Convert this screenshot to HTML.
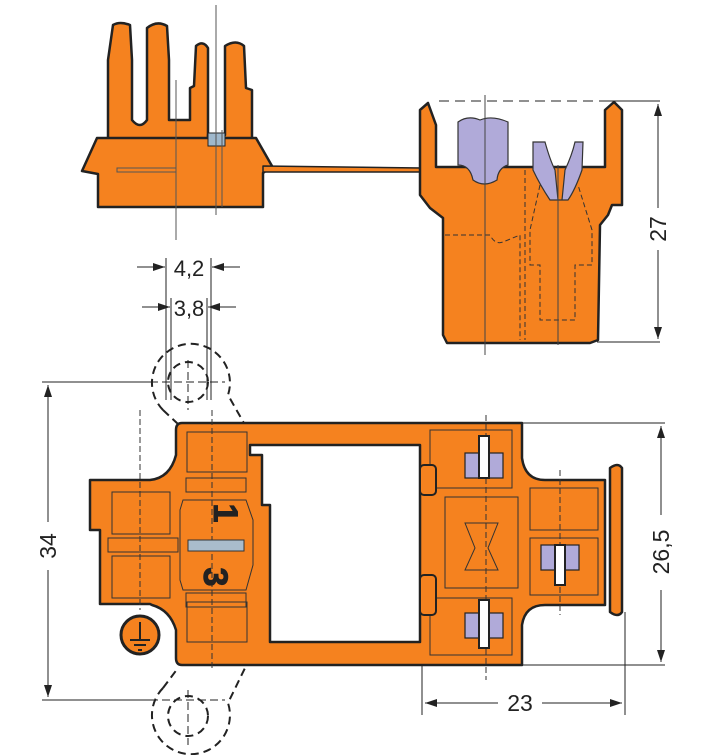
<!DOCTYPE html>
<html><head><meta charset="utf-8"><style>
html,body{margin:0;padding:0;background:#fff;}
svg{display:block;}
text{font-family:"Liberation Sans",sans-serif;fill:#222;}
</style></head><body>
<svg width="707" height="755" viewBox="0 0 707 755" xmlns="http://www.w3.org/2000/svg">
<defs>
<marker id="ar" markerWidth="12" markerHeight="8" refX="12" refY="4" orient="auto" markerUnits="userSpaceOnUse"><path d="M0,0 L12,4 L0,8 Z" fill="#222"/></marker>
</defs>
<g stroke="#222" fill="none" stroke-width="1">
<!-- ===== Top-left side view ===== -->
<g stroke-width="2.5" fill="#f5821f" stroke-linejoin="round">
<path d="M108,140 L108,60 L113,25 Q120,21 130,25 L132,60 L132,120 Q140,130 147,120 L147,28 Q157,20 167,26 L169,60 L169,120 L190,120 L190,88 L194,86 L196,46 Q203,40 208,48 L208,140 Z"/>
<path d="M208,140 L208,135 Q216,148 225,135 L225,46 Q236,39 244,46 L246,88 L252,90 L252,140 Z"/>
<path d="M97,138 L82,171 L98,174 L98,207 L263,207 L263,173 L272,166 L256,138 Z"/>
<path d="M263,166 L422,168 L422,172 L263,172 Z" stroke-width="1.5"/>
</g>
<rect x="208" y="133" width="17" height="13" fill="#9fb8cc" stroke-width="1"/>
<path d="M176,80 L176,240 M216,5 L216,215" stroke="#555"/>
<path d="M117,168 L176,168 L176,172 L117,172 Z M176,138 L176,207 M222,130 L222,207" stroke="#555"/>
<!-- ===== Top-right side view ===== -->
<path d="M439,101 L600,101" stroke-dasharray="10,6"/>
<path d="M600,101 L660,101 M597,342 L660,342"/>
<g stroke-width="2.5" fill="#f5821f" stroke-linejoin="round">
<path d="M420,110 L428,103 L436,125 L436,167 L597,167 L605,167 L605,110 L614,102 L622,110 L622,205 L612,205 L608,215 L600,225 L598,340 L590,343 L447,343 L443,335 L443,218 L430,208 L420,195 Z"/>
</g>
<path d="M458,122 Q468,115 480,120 Q492,115 508,122 L508,165 Q498,168 497,180 Q484,188 473,180 Q470,165 458,165 Z" fill="#b0aad9" stroke="#333" stroke-width="1.2"/>
<path d="M533,142 L545,142 Q550,160 555,170 L558,200 L562,200 L565,170 Q572,155 575,142 L583,142 L582,170 Q575,190 568,200 L550,200 Q540,185 533,170 Z" fill="#b0aad9" stroke="#333" stroke-width="1.2"/>
<path d="M445,235 L490,235 Q495,245 503,242 L520,235 L520,340 M525,170 L525,340" stroke="#333" stroke-dasharray="5,3"/>
<path d="M540,185 L530,230 L530,265 L540,265 L540,320 L575,320 L575,265 L592,265 L592,230 L578,185" stroke="#333" stroke-dasharray="5,3"/>
<path d="M485,95 L485,355 M558,165 L558,345" stroke="#444"/>
<!-- dimension 27 -->
<path d="M658,208 L658,104" marker-end="url(#ar)"/>
<path d="M658,250 L658,339" marker-end="url(#ar)"/>
<!-- ===== dimensions 4,2 / 3,8 ===== -->
<path d="M166,258 L166,400 M211,258 L211,400 M171,298 L171,400 M207,298 L207,400"/>
<path d="M137,267 L165,267" marker-end="url(#ar)"/>
<path d="M240,267 L212,267" marker-end="url(#ar)"/>
<path d="M142,307 L170,307" marker-end="url(#ar)"/>
<path d="M236,307 L208,307" marker-end="url(#ar)"/>
<!-- dashed circles -->
<g stroke-width="2" stroke-dasharray="8,5">
<path d="M163,410 A39,39 0 1 1 228,395 L245,425"/>
<path d="M163,410 L178,424"/>
<circle cx="188" cy="382" r="20"/>
<path d="M163,688 A39,39 0 1 0 228,703 L245,668"/>
<path d="M163,688 L178,668"/>
<circle cx="188" cy="716" r="20"/>
</g>
<path d="M42,382 L225,382 M188,360 L188,410 M42,700 L225,700 M188,690 L188,745" stroke-dasharray="8,4"/>
<path d="M42,382 L150,382 M42,700 L150,700"/>
<!-- dim 34 -->
<path d="M48,522 L48,385" marker-end="url(#ar)"/>
<path d="M48,570 L48,697" marker-end="url(#ar)"/>
<!-- dim 26,5 -->
<path d="M522,423 L665,423 M522,665 L665,665"/>
<path d="M661,515 L661,426" marker-end="url(#ar)"/>
<path d="M661,590 L661,662" marker-end="url(#ar)"/>
<!-- dim 23 -->
<path d="M422,600 L422,715 M625,612 L625,715"/>
<path d="M498,703 L425,703" marker-end="url(#ar)"/>
<path d="M542,703 L622,703" marker-end="url(#ar)"/>
<!-- ===== Bottom top view ===== -->
<g stroke-width="2.5" fill="#f5821f" stroke-linejoin="round">
<path d="M182,423 L522,423 L522,458 Q525,480 545,480 L605,480 L605,605 L545,605 Q525,605 522,625 L522,665 L182,665 Q176,665 176,658 L176,630 Q170,610 152,605 L150,604 L100,604 L100,530 L90,530 L90,480 L150,480 Q170,478 176,455 L176,430 Q176,423 182,423 Z M250,445 L250,455 L262,455 L262,505 L270,505 L270,642 L420,642 L420,445 Z" fill-rule="evenodd"/>
<path d="M610,468 Q618,462 622,468 L622,612 Q618,618 610,612 Z"/>
<circle cx="140" cy="635" r="19" fill="#f5821f" stroke-width="3"/>
</g>
<path d="M130,640 L150,640 M134,645 L146,645 M138,650 L142,650 M140,622 L140,640" stroke-width="2"/>
<g stroke="#333" stroke-width="1">
<rect x="112" y="492" width="58" height="42"/>
<rect x="112" y="556" width="58" height="42"/>
<rect x="108" y="538" width="70" height="14"/>
<rect x="187" y="432" width="60" height="40"/>
<rect x="187" y="602" width="60" height="40"/>
<rect x="186" y="478" width="60" height="14"/>
<rect x="186" y="593" width="60" height="14"/>
<path d="M183,500 L246,500 L253,520 L253,565 L246,590 L183,590 L180,580 L180,510 Z"/>
<path d="M430,430 L512,430 L512,488 L430,488 Z M445,497 L518,497 L518,588 L445,588 Z M530,488 L598,488 L598,530 L530,530 Z M530,538 L598,538 L598,595 L530,595 Z M430,598 L512,598 L512,655 L430,655 Z"/>
<path d="M465,523 L498,523 L488,548 L498,570 L465,570 L475,548 Z"/>
<path d="M140,410 L140,610 M212,410 L212,670 M486,415 L486,680 M560,470 L560,615" stroke-dasharray="6,3"/>
</g>
<rect x="188" y="540" width="56" height="11" fill="#a9bccc" stroke="#333"/>
<text x="0" y="0" font-size="34" font-weight="bold" transform="translate(225,513) rotate(90)" text-anchor="middle" dominant-baseline="central" fill="#111">1</text>
<text x="0" y="0" font-size="34" font-weight="bold" transform="translate(215,577) rotate(90)" text-anchor="middle" dominant-baseline="central" fill="#111">3</text>
<g fill="#b0aad9" stroke="#222" stroke-width="1.2">
<rect x="465" y="453" width="38" height="25"/>
<rect x="465" y="613" width="38" height="25"/>
<rect x="541" y="545" width="38" height="25"/>
</g>
<g fill="#fff" stroke="#222" stroke-width="2">
<rect x="479" y="436" width="10" height="42"/>
<rect x="479" y="600" width="10" height="48"/>
<rect x="555" y="545" width="10" height="40"/>
</g>
<g fill="#f5821f" stroke="#222" stroke-width="2">
<rect x="420" y="465" width="16" height="30" rx="4"/>
<rect x="420" y="575" width="16" height="40" rx="4"/>
</g>
</g>
<text x="189" y="276" font-size="22" text-anchor="middle">4,2</text>
<text x="189" y="316" font-size="22" text-anchor="middle">3,8</text>
<text x="0" y="0" font-size="23" text-anchor="middle" transform="translate(666,229) rotate(-90)">27</text>
<text x="0" y="0" font-size="23" text-anchor="middle" transform="translate(56,546) rotate(-90)">34</text>
<text x="0" y="0" font-size="23" text-anchor="middle" transform="translate(669,552) rotate(-90)">26,5</text>
<text x="520" y="711" font-size="23" text-anchor="middle">23</text>
</svg>
</body></html>
